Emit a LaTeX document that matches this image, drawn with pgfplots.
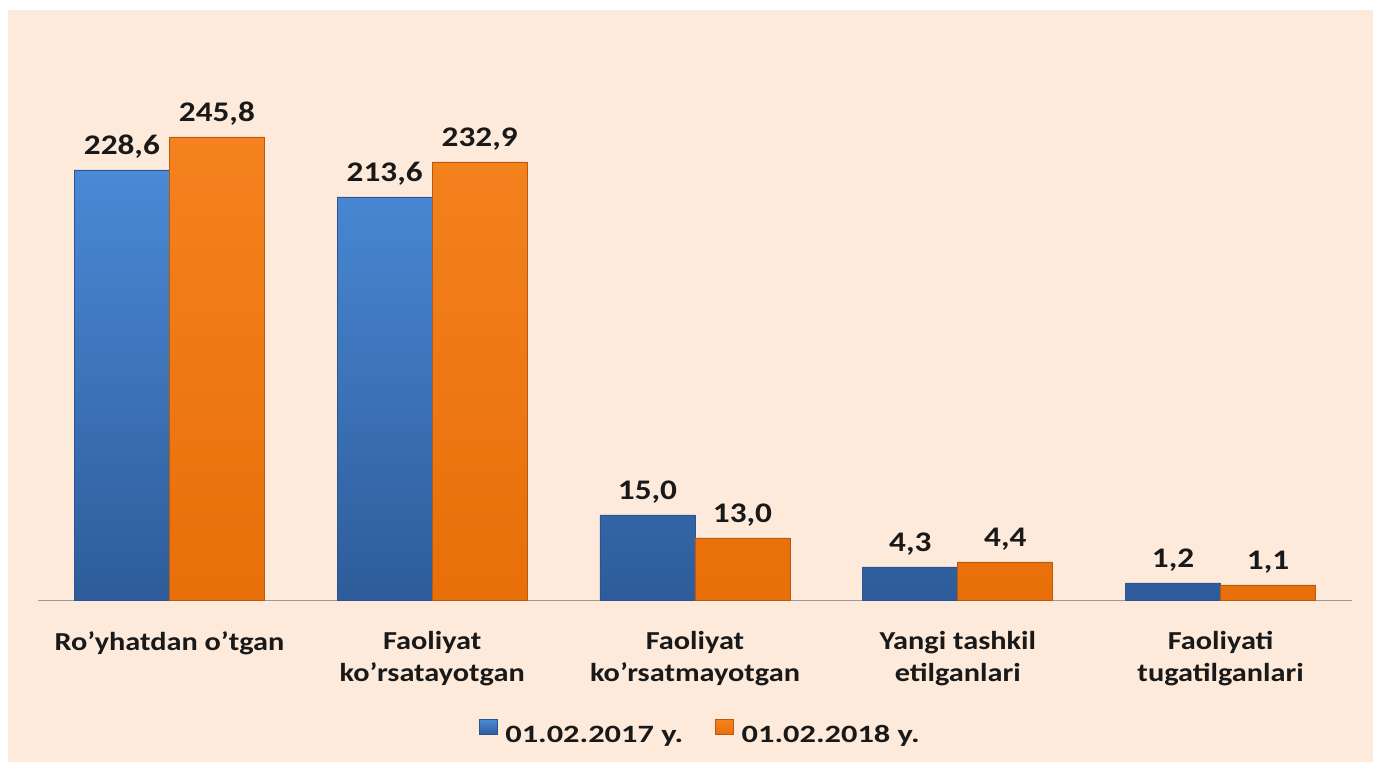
\documentclass[border=0pt]{standalone}
\usepackage{fontspec}
\setmainfont{Carlito}
\newfontfamily\labfont[FakeStretch=1.17]{Carlito}
\newfontfamily\legfont[FakeStretch=1.3]{Carlito}
\usepackage{pgfplots}
\pgfplotsset{compat=1.18}
\definecolor{bgpeach}{HTML}{FDEADB}
\definecolor{axisgray}{HTML}{9A9A9A}
\definecolor{btop}{HTML}{4A89D6}
\definecolor{bbot}{HTML}{2E5C9A}
\definecolor{bedge}{HTML}{2A5590}
\definecolor{otop}{HTML}{F4821E}
\definecolor{obot}{HTML}{E86F0A}
\definecolor{oedge}{HTML}{B65A12}
\begin{document}
\begin{tikzpicture}
\useasboundingbox (0,0) rectangle (1373bp,762bp);
\fill[white] (0,0) rectangle (1373bp,762bp);
\fill[bgpeach] (8bp,0) rectangle (1373bp,752bp);
\begin{axis}[
  at={(38bp,162bp)}, anchor=south west,
  scale only axis, width=1314bp, height=590bp,
  xmin=-0.5, xmax=4.5, ymin=0, ymax=590,
  ybar=0pt, bar width=95bp,
  axis x line=bottom, axis y line=none,
  x axis line style={-, draw=axisgray, line width=0.8bp},
  xtick=data, major tick length=0pt,
  xticklabels={{Ro’yhatdan o’tgan}, {Faoliyat\\ko’rsatayotgan}, {Faoliyat\\ko’rsatmayotgan}, {Yangi tashkil\\etilganlari}, {Faoliyati\\tugatilganlari}},
  xticklabel style={align=center, anchor=north, inner sep=0pt, yshift=-31bp,
    font=\labfont\bfseries\fontsize{26}{32}\selectfont, text=black!90},
  point meta=explicit symbolic,
  nodes near coords,
  every node near coord/.append style={font=\labfont\bfseries\fontsize{28.5}{32}\selectfont,
    anchor=base, yshift=15bp, inner sep=0pt, text=black!90},
  clip=false,
  legend columns=2,
  legend style={at={(0.504,-0.225)}, anchor=center, draw=none, fill=none,
    font=\legfont\bfseries\fontsize{25}{30}\selectfont, text=black!90,
    /tikz/every even column/.append style={column sep=30bp},
    /tikz/every odd column/.append style={column sep=6bp}},
  legend image code/.code={\draw[#1, line width=0.5bp] (0bp,0bp) rectangle (18bp,15bp);},
]
\addplot[top color=btop, bottom color=bbot, draw=bedge, line width=0.6bp]
  table[x=x, y=y, meta=lab, row sep=\\] {
  x y lab \\
  0 430 228,6 \\
  1 403 213,6 \\
  2 85 15,0 \\
  3 33 4,3 \\
  4 17 1,2 \\
  };
\addlegendentry{01.02.2017 y.}
\addplot[top color=otop, bottom color=obot, draw=oedge, line width=0.6bp]
  table[x=x, y=y, meta=lab, row sep=\\] {
  x y lab \\
  0 463 245,8 \\
  1 438 232,9 \\
  2 62 13,0 \\
  3 38 4,4 \\
  4 15 1,1 \\
  };
\addlegendentry{01.02.2018 y.}
\end{axis}
\end{tikzpicture}
\end{document}
